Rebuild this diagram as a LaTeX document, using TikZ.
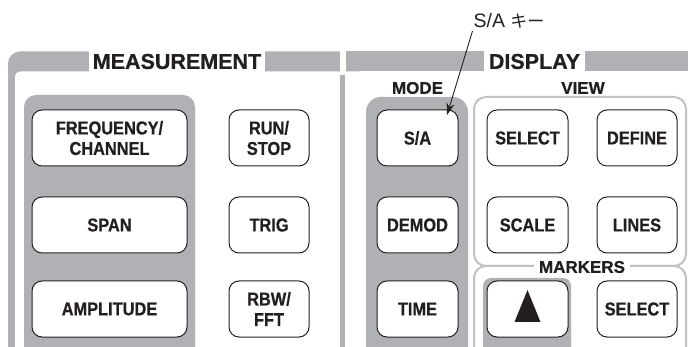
\documentclass[tikz,border=0pt]{standalone}
\usepackage{fontspec}
\setmainfont{Liberation Sans}
\newfontfamily\tastofont{Liberation Sans Bold}[FakeStretch=0.88, FakeBold=0.6]
\newfontfamily\titolofont{Liberation Sans Bold}[FakeBold=0.6]
\newfontfamily\jpfont{Noto Sans CJK JP}
\usetikzlibrary{arrows.meta}

\definecolor{panelgrey}{RGB}{176,177,181}
\definecolor{framegrey}{RGB}{192,193,197}
\definecolor{inkblack}{RGB}{35,31,32}

\begin{document}
\begin{tikzpicture}[x=1pt,y=-1pt]

\tikzset{
    tasto/.style={
        draw=inkblack, line width=1pt, fill=white,
        rounded corners=10pt, inner sep=0pt,
        minimum width=81pt, minimum height=56pt,
        font=\fontsize{18.6}{20.5}\selectfont\tastofont,
        text=inkblack, align=center
    },
    tasto_largo/.style={tasto, minimum width=155pt},
    titolo/.style={
        fill=white, text=inkblack, inner xsep=4pt, minimum height=21pt,
        font=\fontsize{21.5}{24}\selectfont\titolofont
    },
    sottotitolo/.style={
        fill=white, text=inkblack, inner xsep=5pt, inner ysep=1pt,
        font=\fontsize{17}{19}\selectfont\titolofont
    }
}

\useasboundingbox (0,0) rectangle (688,347);
\clip (0,0) rectangle (688,347);

% cornici grigie
\fill[panelgrey, rounded corners=12pt] (8,51.5) rectangle (360,400);
\fill[white, rounded corners=5pt] (15,71.5) rectangle (400,400);
\fill[white] (340,40) rectangle (346,80);
\fill[panelgrey] (346,51.5) rectangle (688,71.5);
\fill[panelgrey] (340,75) rectangle (345,400);

% pannelli
\fill[panelgrey, rounded corners=12pt] (24,95) rectangle (195,400);
\fill[panelgrey, rounded corners=15pt] (366,97) rectangle (468,400);
\fill[panelgrey, rounded corners=8pt] (483,278) rectangle (571,400);
\draw[framegrey, line width=2pt, rounded corners=12pt] (474,97) rectangle (686,266);
\draw[framegrey, line width=2pt, rounded corners=12pt] (474,266) rectangle (686,400);

% titoli
\node[titolo] (measurement) at (177,61.5) {MEASUREMENT};
\node[titolo, inner xsep=5pt] (display) at (534.5,61.5) {DISPLAY};
\node[sottotitolo] (mode) at (417.5,88) {MODE};
\node[sottotitolo] (view) at (583,88) {VIEW};
\node[sottotitolo] (markers) at (582,267) {MARKERS};

% tasti MEASUREMENT
\node[tasto_largo] (freq) at (109.5,138) {FREQUENCY/\\CHANNEL};
\node[tasto_largo] (span) at (109.5,225) {SPAN};
\node[tasto_largo] (ampl) at (109.5,309) {AMPLITUDE};
\node[tasto, minimum width=80pt] (run) at (269,138) {RUN/\\STOP};
\node[tasto, minimum width=80pt] (trig) at (269,225) {TRIG};
\node[tasto, minimum width=80pt] (rbw) at (269,309) {RBW/\\FFT};

% tasti MODE
\node[tasto] (sa) at (417.5,138) {S/A};
\node[tasto] (demod) at (417.5,225) {DEMOD};
\node[tasto] (time) at (417.5,309) {TIME};

% tasti DISPLAY
\node[tasto] (vselect) at (527.5,138) {SELECT};
\node[tasto, minimum width=80pt] (define) at (637,138) {DEFINE};
\node[tasto] (scale) at (527.5,225) {SCALE};
\node[tasto, minimum width=80pt] (lines) at (637,225) {LINES};
\node[tasto] (up) at (527.5,309) {};
\node[tasto, minimum width=80pt] (mselect) at (637,309) {SELECT};
\fill[inkblack] ([shift={(0,-19)}]up.center) -- ([shift={(13,13)}]up.center)
    -- ([shift={(-13,13)}]up.center) -- cycle;

% richiamo
\node[inner sep=0pt, text=inkblack, font=\fontsize{19.5}{21}\selectfont]
    (salabel) at (509,20.5) {S/A {\jpfont\fontsize{17}{19}\selectfont キー}};
\coordinate (satip) at (447,115);
\draw[inkblack, line width=0.9pt, -{Stealth[length=12pt,width=8pt]}, shorten <=3pt]
    (salabel.south west) -- (satip);

\end{tikzpicture}
\end{document}
